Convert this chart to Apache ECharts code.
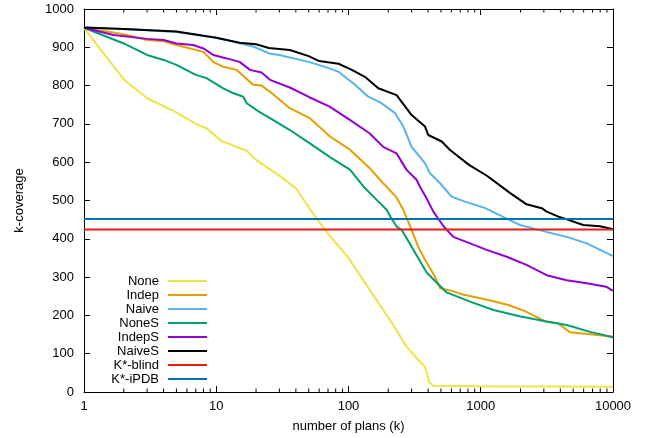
<!DOCTYPE html>
<html>
<head>
<meta charset="utf-8">
<script src="https://cdn.jsdelivr.net/npm/echarts@6/dist/echarts.min.js"></script>
<style>html,body{margin:0;padding:0;background:#fff}#c{width:650px;height:438px}</style>
</head>
<body>
<div id="c"></div>
<script>
const seriesNames = ['None','Indep','Naive','NoneS','IndepS','NaiveS','K*-blind','K*-iPDB'];
const colors = ['#f0e442','#e69f00','#56b4e9','#009e73','#9400d3','#000000','#e51e10','#0072b2'];

const noneData = [[1,951],[1.5,872],[2,816],[3,767],[5,730],[7,700],[8.5,688],[11,655],[17,630],[20,606],[30,565],[40,532],[56,458],[68,419],[100,350],[145,266],[206,188],[275,118],[347,79],[378,66],[395,45],[405,27],[437,16],[1000,15],[10000,14]];
const indepData = [[1,951],[2,934],[3,919],[4,916],[5,906],[8,888],[9.5,862],[11.3,849],[14.3,841],[19,802],[22,800],[25.5,784],[36,741],[51,715],[72.5,667],[103,632],[145,584],[183,545],[231,508],[260,475],[283,445],[300,423],[309,418],[337,379],[379,345],[451,301],[492,271],[602,264],[760,253],[1140,240],[1620,227],[2160,211],[3100,184],[3860,179],[4730,156],[7000,150],[10000,144]];
const naiveData = [[1,952],[2,948],[5,940],[10,925],[12,919],[19,902],[22,893],[25,884],[30,880],[50,862],[72,845],[84,836],[112,802],[141,771],[178,754],[225,728],[260,693],[300,640],[347,614],[379,597],[413,571],[492,545],[602,510],[760,497],[1080,480],[1460,458],[1980,436],[3150,418],[4470,405],[6330,388],[10000,355]];
const noneSData = [[1,951],[2,910],[3,880],[4,867],[5,854],[7,828],[8.5,819],[11.3,793],[13.5,780],[16,771],[17,754],[21,732],[25.5,715],[36,684],[51,649],[72,614],[103,580],[130,536],[164,501],[195,475],[207,458],[231,432],[253,423],[300,379],[390,312],[552,260],[830,236],[1250,214],[2000,197],[3150,184],[4470,175],[6700,157],[10000,143]];
const indepSData = [[1,951],[1.67,932],[3,922],[4,919],[5,910],[6.7,906],[8,897],[9.5,880],[12,871],[15,862],[18,841],[22,834],[25.5,815],[36,795],[51,769],[72,745],[103,710],[145,675],[183,640],[231,623],[275,580],[327,554],[347,536],[390,505],[438,471],[525,432],[620,405],[830,388],[1110,371],[1570,353],[2220,332],[3150,305],[4470,292],[6330,284],[8870,275],[10000,264]];
const naiveSData = [[1,952],[2,948],[5,941],[10,925],[15,912],[20,908],[25,898],[36,893],[50,877],[60,864],[84,857],[106,841],[133,823],[168,793],[231,775],[300,723],[379,693],[401,671],[507,654],[586,632],[815,593],[1120,564],[1660,520],[2220,490],[2890,480],[3150,471],[3860,458],[4200,454],[5960,436],[7960,433],[10000,425]];
const kBlindValue = 424;
const kIpdbValue = 452;
const xRange = [1, 10000];
const yRange = [0, 1000];
const minorTickValues = [2,3,4,5,6,7,8,9,20,30,40,50,60,70,80,90,200,300,400,500,600,700,800,900,2000,3000,4000,5000,6000,7000,8000,9000];

const font = '"Liberation Sans", Arial, sans-serif';
const allData = [noneData, indepData, naiveData, noneSData, indepSData, naiveSData,
  [[xRange[0],kBlindValue],[xRange[1],kBlindValue]],
  [[xRange[0],kIpdbValue],[xRange[1],kIpdbValue]]];

const lineSeries = seriesNames.map((n,i)=>({
  name:n, type:'line', data: allData[i], showSymbol:false, symbol:'none',
  lineStyle:{width:2, color:colors[i]}, itemStyle:{color:colors[i]}, animation:false, z: 2+i
}));

// minor tick marks of the log axis (bottom and mirrored top), drawn through the axis scales
const minorLen = (yRange[1]-yRange[0]) * 3.5 / 383;
const minorTickData = [];
minorTickValues.forEach(v => {
  minorTickData.push([v, yRange[0]], [v, yRange[0] + minorLen], [v, '-'],
                     [v, yRange[1]], [v, yRange[1] - minorLen], [v, '-']);
});

const axisCommon = {
  axisLine:{show:true, onZero:false, lineStyle:{color:'#000', width:1}},
  splitLine:{show:false}
};
const plain = v => String(v);

const chart = echarts.init(document.getElementById('c'), null, {renderer:'canvas'});
chart.setOption({
  animation:false,
  backgroundColor:'#fff',
  grid:{left:84, right:37, top:9, bottom:46, containLabel:false},
  legend:{
    orient:'vertical', right:443, top:274, align:'right', icon:'rect',
    itemWidth:39, itemHeight:2, itemGap:0, padding:0,
    textStyle:{fontSize:13, color:'#000', lineHeight:14, fontFamily:font, padding:[0,4,0,0]},
    data: seriesNames
  },
  xAxis:[
    Object.assign({type:'log', logBase:10, min:xRange[0], max:xRange[1], position:'bottom',
      axisTick:{show:true, inside:true, length:6, lineStyle:{color:'#000'}},
      axisLabel:{show:true, margin:8, fontSize:13, color:'#000', fontFamily:font, formatter:plain},
      name:'number of plans (k)', nameLocation:'middle', nameGap:28,
      nameTextStyle:{fontSize:13, color:'#000', fontFamily:font}}, axisCommon),
    Object.assign({type:'log', logBase:10, min:xRange[0], max:xRange[1], position:'top',
      axisTick:{show:true, inside:true, length:6, lineStyle:{color:'#000'}},
      axisLabel:{show:false}}, axisCommon)
  ],
  yAxis:[
    Object.assign({type:'value', min:yRange[0], max:yRange[1], interval:100, position:'left',
      axisTick:{show:true, inside:true, length:6, lineStyle:{color:'#000'}},
      axisLabel:{show:true, margin:10, fontSize:13, color:'#000', fontFamily:font, formatter:plain},
      name:'k-coverage', nameLocation:'middle', nameGap:58,
      nameTextStyle:{fontSize:13, color:'#000', fontFamily:font}}, axisCommon),
    Object.assign({type:'value', min:yRange[0], max:yRange[1], interval:100, position:'right',
      axisTick:{show:true, inside:true, length:6, lineStyle:{color:'#000'}},
      axisLabel:{show:false}}, axisCommon)
  ],
  series: lineSeries.concat([{
    type:'line', name:'minorTicks', data:minorTickData, showSymbol:false, symbol:'none',
    connectNulls:false, silent:true, z:1,
    lineStyle:{width:1, color:'#000'}, animation:false
  }])
});
</script>
</body>
</html>
